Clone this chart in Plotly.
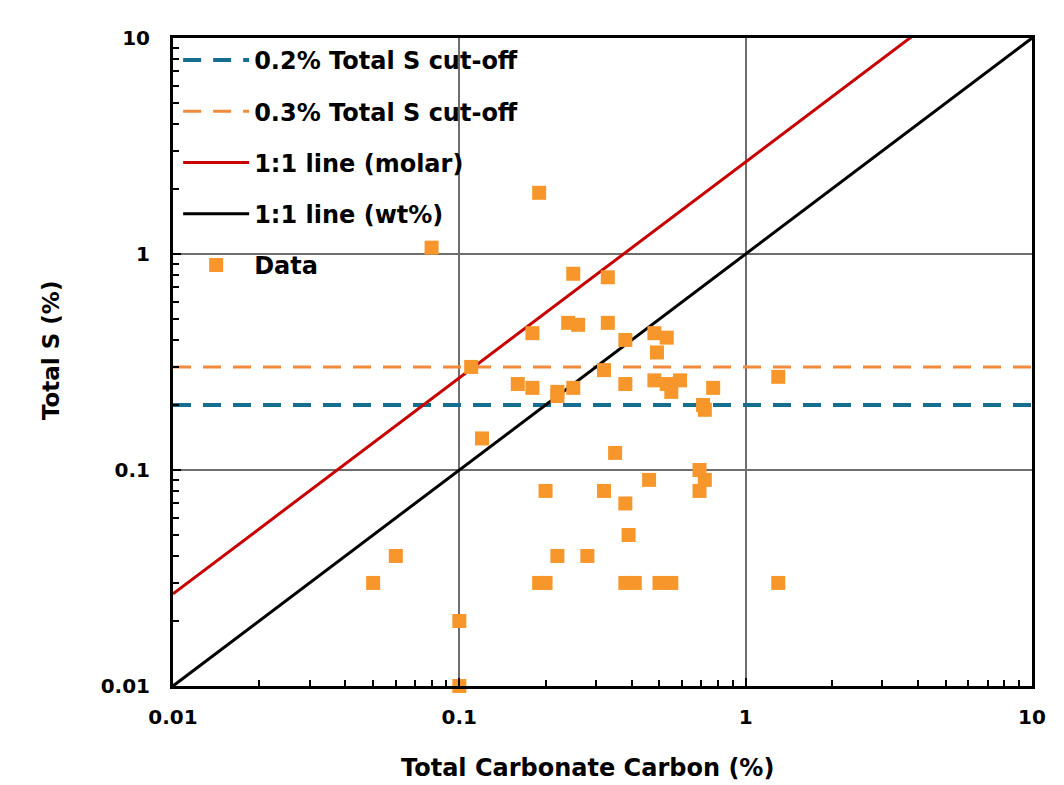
import plotly.graph_objects as go

# ---- data ----
carbonate_c = [0.19, 0.08, 0.25, 0.33, 0.18, 0.24, 0.26, 0.33, 0.38, 0.48, 0.53, 0.49,
               0.11, 0.32, 0.16, 0.18, 0.22, 0.22, 0.25, 0.38, 0.48, 0.53, 0.55, 0.59,
               0.77, 0.71, 0.72, 1.3,
               0.12, 0.35, 0.69, 0.72, 0.69, 0.46, 0.20, 0.32, 0.38, 0.39, 0.06, 0.22,
               0.28, 0.05, 0.19, 0.20, 0.38, 0.41, 0.50, 0.55, 1.3, 0.10, 0.10]
total_s = [1.92, 1.07, 0.81, 0.78, 0.43, 0.48, 0.47, 0.48, 0.40, 0.43, 0.41, 0.35,
           0.30, 0.29, 0.25, 0.24, 0.22, 0.23, 0.24, 0.25, 0.26, 0.25, 0.23, 0.26,
           0.24, 0.20, 0.19, 0.27,
           0.14, 0.12, 0.10, 0.09, 0.08, 0.09, 0.08, 0.08, 0.07, 0.05, 0.04, 0.04,
           0.04, 0.03, 0.03, 0.03, 0.03, 0.03, 0.03, 0.03, 0.03, 0.02, 0.01]

cutoff_low = 0.2
cutoff_high = 0.3
line_x = [0.01, 10]
molar_ratio = 32.06 / 12.01   # S:C molar 1:1 in wt%

tick_vals = [0.01, 0.1, 1, 10]
tick_text = ["0.01", "0.1", "1", "10"]
minor_vals = [m * d for d in (0.01, 0.1, 1) for m in range(2, 10)]

x_title = "Total Carbonate Carbon (%)"
y_title = "Total S (%)"

FONT = "DejaVu Sans"
TEAL = "#156E8E"
ORANGE_LINE = "#F28A3C"
RED = "#C80000"
DATA_ORANGE = "#F7962A"

fig = go.Figure()

fig.add_trace(go.Scatter(
    x=line_x, y=[cutoff_low] * len(line_x), mode="lines",
    name="0.2% Total S cut-off", legendgroup="a",
    line=dict(color=TEAL, width=4, dash="18px,12px")))
fig.add_trace(go.Scatter(
    x=line_x, y=[cutoff_high] * len(line_x), mode="lines",
    name="0.3% Total S cut-off", legendgroup="b",
    line=dict(color=ORANGE_LINE, width=3, dash="18px,12px")))
fig.add_trace(go.Scatter(
    x=line_x, y=[v * molar_ratio for v in line_x], mode="lines",
    name="1:1 line (molar)", legendgroup="c",
    line=dict(color=RED, width=3)))
fig.add_trace(go.Scatter(
    x=line_x, y=line_x, mode="lines",
    name="1:1 line (wt%)", legendgroup="d",
    line=dict(color="black", width=3)))
fig.add_trace(go.Scatter(
    x=carbonate_c, y=total_s, mode="markers",
    name="Data", legendgroup="e", cliponaxis=False,
    marker=dict(symbol="square", size=14, color=DATA_ORANGE)))

axis_common = dict(
    type="log",
    tickmode="array", tickvals=tick_vals, ticktext=tick_text,
    showline=True, linecolor="black", linewidth=3, mirror=True,
    ticks="inside", ticklen=8, tickwidth=2, tickcolor="black",
    minor=dict(ticks="inside", ticklen=6, tickwidth=2, tickcolor="black",
               tickmode="array", tickvals=minor_vals, showgrid=False),
    showgrid=True, gridcolor="#6e6e6e", gridwidth=1.5,
    zeroline=False,
    tickfont=dict(family=FONT, size=20, color="black", weight="bold"),
)

fig.update_xaxes(range=[-2, 1], ticklabelstandoff=11, **axis_common)
fig.update_yaxes(range=[-2, 1], ticklabelstandoff=16, **axis_common)

fig.add_annotation(text=x_title, xref="paper", yref="paper",
                   x=0.4826, y=-0.1265, xanchor="center", yanchor="middle",
                   showarrow=False,
                   font=dict(family=FONT, size=24, color="black", weight="bold"))
fig.add_annotation(text=y_title, xref="paper", yref="paper",
                   x=-0.1419, y=0.517, xanchor="center", yanchor="middle",
                   textangle=-90, showarrow=False,
                   font=dict(family=FONT, size=23, color="black", weight="bold"))

fig.update_layout(
    width=1064, height=785,
    margin=dict(l=165, r=40, t=30, b=107),
    paper_bgcolor="white", plot_bgcolor="white",
    showlegend=True,
    legend=dict(x=0.006, y=1.0, xanchor="left", yanchor="top",
                bgcolor="rgba(255,255,255,0)", borderwidth=0,
                tracegroupgap=17, itemwidth=66,
                font=dict(family=FONT, size=24, color="black", weight="bold")),
)

fig.write_html("out.html")
